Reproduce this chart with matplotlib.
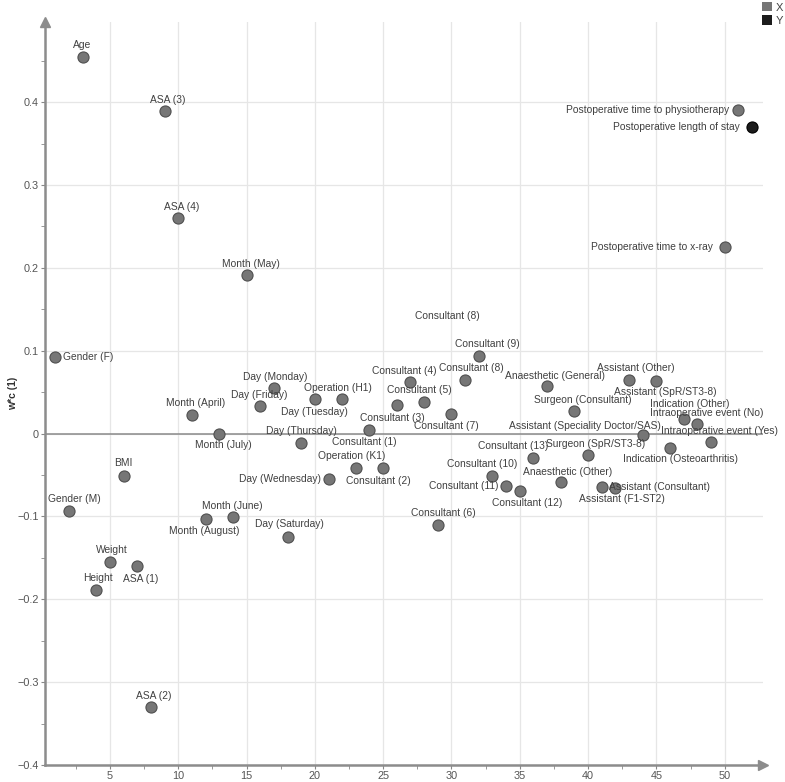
import matplotlib
matplotlib.use("Agg")
import matplotlib.pyplot as plt
from matplotlib.patches import Patch

# variable index (x) and w*c(1) loading (y)
x_names = [
    "Gender (F)", "Gender (M)", "Age", "Height", "Weight", "BMI",
    "ASA (1)", "ASA (2)", "ASA (3)", "ASA (4)",
    "Month (April)", "Month (August)", "Month (July)", "Month (June)", "Month (May)",
    "Day (Friday)", "Day (Monday)", "Day (Saturday)", "Day (Thursday)",
    "Day (Tuesday)", "Day (Wednesday)", "Operation (H1)", "Operation (K1)",
    "Consultant (1)", "Consultant (2)", "Consultant (3)", "Consultant (4)",
    "Consultant (5)", "Consultant (6)", "Consultant (7)", "Consultant (8)",
    "Consultant (9)", "Consultant (10)", "Consultant (11)", "Consultant (12)",
    "Consultant (13)", "Anaesthetic (General)", "Anaesthetic (Other)",
    "Surgeon (Consultant)", "Surgeon (SpR/ST3-8)", "Assistant (F1-ST2)",
    "Assistant (Consultant)", "Assistant (Other)",
    "Assistant (Speciality Doctor/SAS)", "Assistant (SpR/ST3-8)",
    "Indication (Osteoarthritis)", "Indication (Other)",
    "Intraoperative event (No)", "Intraoperative event (Yes)",
    "Postoperative time to x-ray", "Postoperative time to physiotherapy",
]
x_vals = [
    0.093, -0.093, 0.455, -0.189, -0.155, -0.051,
    -0.160, -0.330, 0.389, 0.260,
    0.023, -0.103, 0.000, -0.101, 0.191,
    0.033, 0.055, -0.125, -0.011,
    0.042, -0.055, 0.042, -0.041,
    0.004, -0.042, 0.034, 0.062,
    0.038, -0.110, 0.024, 0.065,
    0.094, -0.051, -0.063, -0.069,
    -0.029, 0.058, -0.058,
    0.027, -0.026, -0.065,
    -0.066, 0.065,
    -0.002, 0.063,
    -0.017, 0.018,
    0.011, -0.010,
    0.225, 0.390,
]
y_names = ["Postoperative length of stay"]
y_vals = [0.370]

# label placement: (dx, dy in pixels, horizontal alignment)
label_pos = {
    "Gender (F)": (8, 0, "left"), "Gender (M)": (5, 12, "center"),
    "Age": (0, 12, "center"), "Height": (2, 12, "center"),
    "Weight": (2, 12, "center"), "BMI": (0, 13, "center"),
    "ASA (1)": (3, -13, "center"), "ASA (2)": (3, 11, "center"),
    "ASA (3)": (3, 11, "center"), "ASA (4)": (3, 11, "center"),
    "Month (April)": (4, 12, "center"), "Month (August)": (-1, -12, "center"),
    "Month (July)": (4, -11, "center"), "Month (June)": (-1, 11, "center"),
    "Month (May)": (4, 11, "center"), "Day (Friday)": (-1, 11, "center"),
    "Day (Monday)": (1, 11, "center"), "Day (Saturday)": (2, 13, "center"),
    "Day (Thursday)": (0, 12, "center"), "Day (Tuesday)": (0, -13, "center"),
    "Day (Wednesday)": (-8, 0, "right"), "Operation (H1)": (-4, 11, "center"),
    "Operation (K1)": (-4, 12, "center"), "Consultant (1)": (-5, -12, "center"),
    "Consultant (2)": (-5, -13, "center"), "Consultant (3)": (-4, -13, "center"),
    "Consultant (4)": (-6, 11, "center"), "Consultant (5)": (-5, 12, "center"),
    "Consultant (6)": (6, 12, "center"), "Consultant (7)": (-5, -12, "center"),
    "Consultant (8)": (6, 12, "center"), "Consultant (9)": (9, 12, "center"),
    "Consultant (10)": (-10, 12, "center"), "Consultant (11)": (-8, 0, "right"),
    "Consultant (12)": (7, -12, "center"), "Consultant (13)": (-20, 12, "center"),
    "Anaesthetic (General)": (8, 10, "center"), "Anaesthetic (Other)": (7, 10, "center"),
    "Surgeon (Consultant)": (8, 11, "center"), "Surgeon (SpR/ST3-8)": (8, 11, "center"),
    "Assistant (F1-ST2)": (20, -12, "center"), "Assistant (Consultant)": (-6, 1, "left"),
    "Assistant (Other)": (7, 12, "center"),
    "Assistant (Speciality Doctor/SAS)": (18, 9, "right"),
    "Assistant (SpR/ST3-8)": (9, -11, "center"),
    "Indication (Osteoarthritis)": (10, -11, "center"),
    "Indication (Other)": (6, 15, "center"),
    "Intraoperative event (No)": (9, 11, "center"),
    "Intraoperative event (Yes)": (8, 11, "center"),
    "Postoperative time to x-ray": (-12, 0, "right"),
    "Postoperative time to physiotherapy": (-9, 0, "right"),
    "Postoperative length of stay": (-12, 0, "right"),
}

plt.rcParams["font.family"] = ["Liberation Sans Narrow", "Liberation Sans", "DejaVu Sans"]
txt_col = "#404040"
x_col = "#767676"
y_col = "#1c1c1c"
lab_size = 7.4

fig = plt.figure(figsize=(7.85, 7.82), dpi=100)
ax = fig.add_axes([0.0573, 0.0217, 0.9147, 0.9505])

x_idx = list(range(1, len(x_vals) + 1))
y_idx = list(range(len(x_vals) + 1, len(x_vals) + len(y_vals) + 1))

ax.scatter(x_idx, x_vals, s=64, color=x_col, edgecolors="#505050", linewidths=0.8, zorder=3)
ax.scatter(y_idx, y_vals, s=64, color=y_col, edgecolors="#000000", linewidths=0.8, zorder=3)

for name, xi, yi in list(zip(x_names, x_idx, x_vals)) + list(zip(y_names, y_idx, y_vals)):
    dx, dy, ha = label_pos[name]
    ax.annotate(name, (xi, yi), xytext=(dx, dy), textcoords="offset pixels",
                ha=ha, va="center", fontsize=lab_size, color=txt_col, zorder=4)

# stray label present in the original
ax.text(29.7, 0.142, "Consultant (8)", ha="center", va="center",
        fontsize=lab_size, color=txt_col)

ax.axhline(0, color="#8a8a8a", linewidth=1.1, zorder=2)

ax.set_xlim(0.25, 52.8)
ax.set_ylim(-0.4, 0.497)
ax.set_xticks([5, 10, 15, 20, 25, 30, 35, 40, 45, 50])
ax.set_xticks([2.5 + 5 * i for i in range(11)], minor=True)
ax.set_yticks([-0.4, -0.3, -0.2, -0.1, 0, 0.1, 0.2, 0.3, 0.4])
ax.set_yticklabels(["\u22120.4", "\u22120.3", "\u22120.2", "\u22120.1", "0", "0.1", "0.2", "0.3", "0.4"])
ax.set_yticks([-0.35, -0.25, -0.15, -0.05, 0.05, 0.15, 0.25, 0.35, 0.45], minor=True)
ax.grid(True, which="major", color="#e6e6e6", linewidth=0.9, zorder=0)
ax.set_axisbelow(True)

ax.tick_params(which="major", length=3, color="#888888", labelsize=7.8, labelcolor="#555555", pad=1.5)
ax.tick_params(which="minor", length=3, color="#888888")
for side in ["top", "right"]:
    ax.spines[side].set_visible(False)
for side in ["left", "bottom"]:
    ax.spines[side].set_color("#8c8c8c")
    ax.spines[side].set_linewidth(1.8)

# arrow heads on axes
ax.plot(0, 1, marker="^", markersize=7, color="#8c8c8c", transform=ax.transAxes, clip_on=False)
ax.plot(1, 0, marker=">", markersize=7, color="#8c8c8c", transform=ax.transAxes, clip_on=False)

ax.set_ylabel("w*c (1)", fontsize=7.5, fontweight="bold", color="#333333")
ax.yaxis.set_label_coords(-0.037, 0.5)

fig.legend(handles=[Patch(facecolor=x_col, label="X"), Patch(facecolor=y_col, label="Y")],
           loc="upper right", bbox_to_anchor=(1.0, 1.0), frameon=False, fontsize=8,
           handlelength=0.9, handleheight=0.9, handletextpad=0.3, labelspacing=0.25,
           borderpad=0.1, borderaxespad=0.1, labelcolor="#444444")

fig.savefig("out.png", dpi=100)
